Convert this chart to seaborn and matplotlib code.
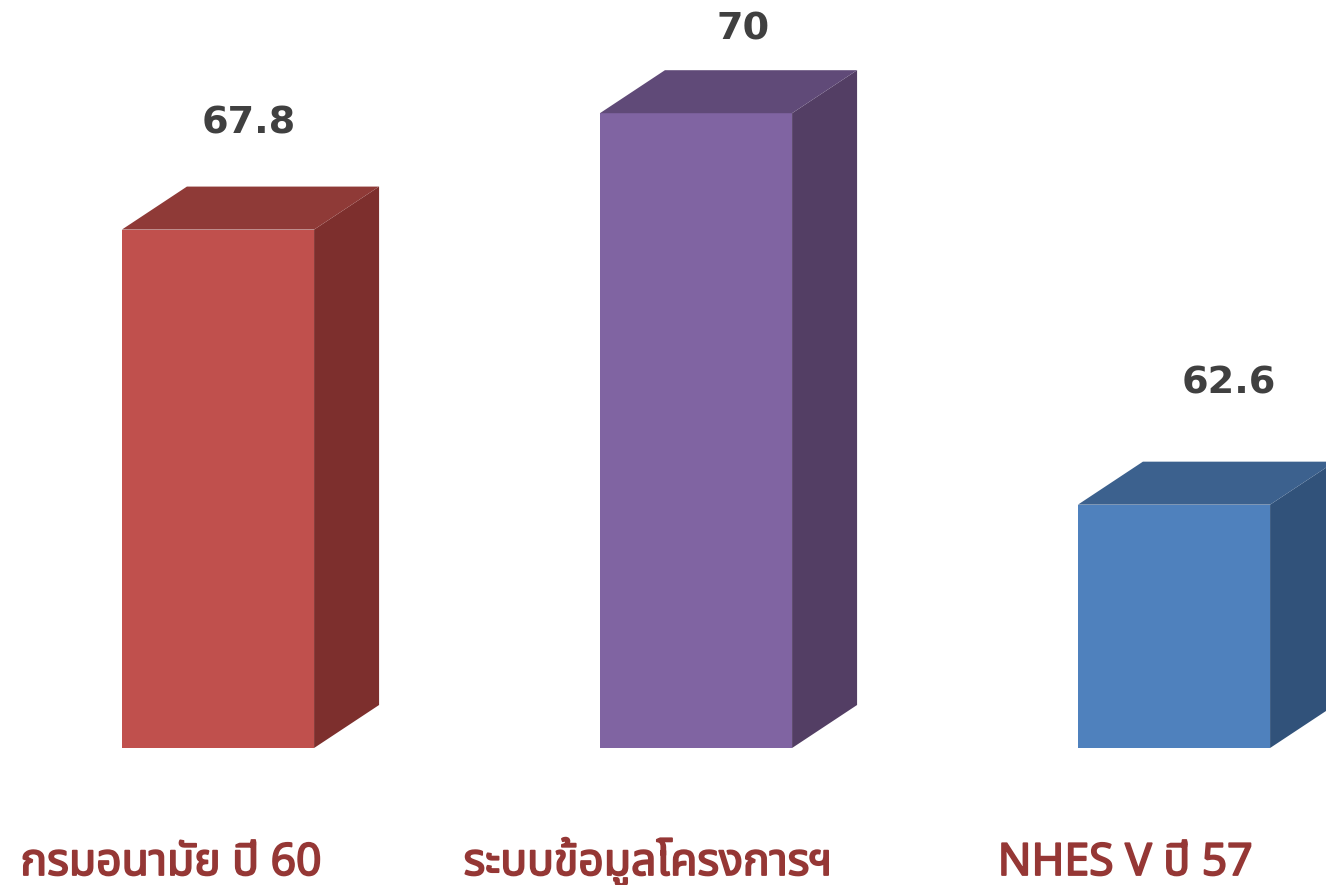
import matplotlib
matplotlib.use('Agg')
import matplotlib.pyplot as plt
import matplotlib.patches as patches
import matplotlib.patheffects as pe
import pandas as pd
import seaborn as sns

categories = ['กรมอนามัย ปี 60', 'ระบบข้อมูลโครงการฯ', 'NHES V ปี 57']
values = [67.8, 70, 62.6]
value_labels = ['67.8', '70', '62.6']

front_colors = ['#C0504D', '#8064A2', '#4F81BD']
top_colors = ['#8F3A37', '#604A78', '#3C618E']
side_colors = ['#7D2F2D', '#533E64', '#31527A']

W, H = 1326, 885
BASE = 58
fig = plt.figure(figsize=(W / 100, H / 100), dpi=100)
ax = fig.add_axes([0, (H - 748) / H, 1, 748 / H])

df = pd.DataFrame({'name': categories, 'value': values})
sns.barplot(data=df, x='name', y='value', hue='name', palette=front_colors,
            width=0.402, legend=False, saturation=1, ax=ax)
ax.set_xlim(-218 / 478, (W - 218) / 478)
ax.set_ylim(BASE, BASE + 748 / 52.9)
ax.axis('off')

# fake 3d: depth in pixels, faces built from the bar corners
dx, dy = 65, 43
for i, bar in enumerate(list(ax.patches)):
    x0, y0 = ax.transData.transform((bar.get_x(), BASE))
    x1, y1 = ax.transData.transform((bar.get_x() + bar.get_width(), bar.get_height()))
    side = [(x1, y0), (x1 + dx, y0 + dy), (x1 + dx, y1 + dy), (x1, y1)]
    top = [(x0, y1), (x0 + dx, y1 + dy), (x1 + dx, y1 + dy), (x1, y1)]
    ax.add_patch(patches.Polygon(side, facecolor=side_colors[i], edgecolor='none',
                                 transform=None, clip_on=False))
    ax.add_patch(patches.Polygon(top, facecolor=top_colors[i], edgecolor='none',
                                 transform=None, clip_on=False))

label_pos = [(249, 133), (743, 40), (1229, 394)]
for txt, (px, py) in zip(value_labels, label_pos):
    fig.text(px / W, 1 - py / H, txt, ha='center', va='baseline', fontsize=27.5,
             fontweight='bold', color='#404040', family='DejaVu Sans')

cat_pos = [(171, 875), (648, 875), (1125, 875)]
for txt, (px, py) in zip(categories, cat_pos):
    t = fig.text(px / W, 1 - py / H, txt, ha='center', va='baseline', fontsize=32,
                 color='#953735', family=['Noto Sans Thai', 'DejaVu Sans'])
    # the thai face only comes in one weight here, so thicken it
    t.set_path_effects([pe.withStroke(linewidth=1.3, foreground='#953735')])

plt.savefig('out.png', dpi=100)
